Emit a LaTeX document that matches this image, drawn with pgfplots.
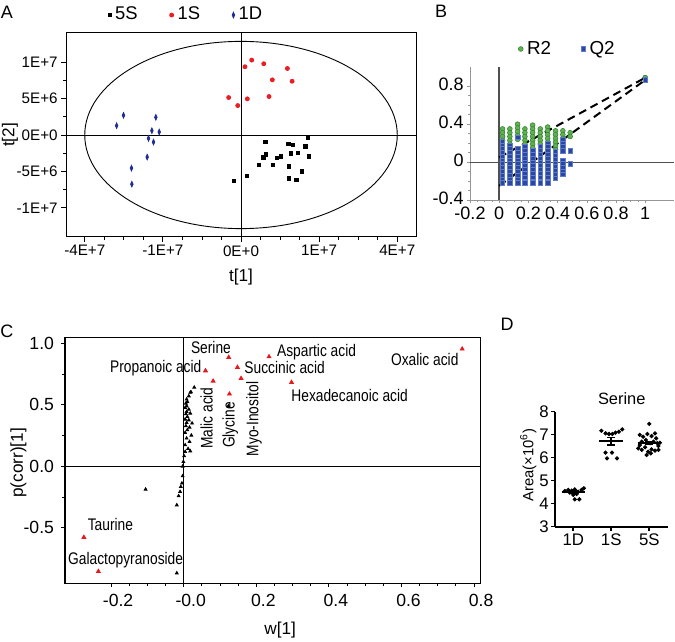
\documentclass[border=0pt]{standalone}
\usepackage{fontspec}
\setmainfont{Liberation Sans}
\newfontfamily\narrow[FakeStretch=0.82]{Liberation Sans}
\usepackage{pgfplots}
\pgfplotsset{compat=1.18}
\definecolor{redS}{RGB}{235,30,35}
\definecolor{blueD}{RGB}{30,45,150}
\definecolor{greenR}{RGB}{95,180,80}
\definecolor{greenRe}{RGB}{55,135,55}
\definecolor{blueQ}{RGB}{45,70,160}
\definecolor{blueQe}{RGB}{95,125,205}
\definecolor{axgray}{RGB}{150,150,150}
\definecolor{zgray}{RGB}{80,80,80}
\definecolor{redC}{RGB}{230,25,30}
\pgfplotsset{
  every axis/.append style={/pgf/number format/assume math mode=true},
}
\begin{document}
\begin{tikzpicture}
\useasboundingbox (0,0) rectangle (337.5pt,321pt);
% panel letters
\node[font=\fontsize{9}{10}\selectfont] at (3.4pt,315pt) {A};
\node[font=\fontsize{9}{10}\selectfont] at (220.5pt,315.5pt) {B};
\node[font=\fontsize{9}{10}\selectfont] at (3.4pt,155.5pt) {C};
\node[font=\fontsize{9}{10}\selectfont] at (253.5pt,159pt) {D};

% ---------------- Panel A ----------------
\begin{axis}[
  at={(33pt,202.5pt)}, anchor=south west, scale only axis,
  width=175pt, height=102pt,
  xmin=-2.24, xmax=2.24, ymin=-14, ymax=14,
  xtick={-2,-1,0,1,2}, xticklabels={-4E+7,-1E+7,0E+0,1E+7,4E+7},
  ytick={-10,-5,0,5,10}, yticklabels={-1E+7,-5E+6,0E+0,5E+6,1E+7},
  minor x tick num=3, minor y tick num=1,
  tick align=outside, tick pos=left,
  major tick length=2.5pt, minor tick length=1.5pt,
  axis line style={line width=0.5pt},
  every tick/.style={black, line width=0.4pt},
  tick label style={font=\fontsize{7.6}{8.5}\selectfont},
  xticklabel style={inner sep=1.5pt},
  yticklabel style={inner sep=1.5pt},
  xlabel={t[1]}, ylabel={t[2]},
  label style={font=\fontsize{8.6}{10}\selectfont},
  xlabel style={at={(axis description cs:0.5,-0.196)}, anchor=center},
  ylabel style={at={(axis description cs:-0.16,0.5)}, anchor=center},
  legend columns=3,
  legend style={at={(axis description cs:0.346,1.088)}, anchor=center,
    draw=none, fill=none, font=\fontsize{9.2}{10}\selectfont,
    /tikz/every even column/.append style={column sep=14pt}},
  legend image code/.code={\draw[mark repeat=2,mark phase=2,#1] plot coordinates {(0pt,0pt)(1.5pt,0pt)(3pt,0pt)};},
]
\draw[line width=0.45pt] (axis cs:0,-14) -- (axis cs:0,14);
\draw[line width=0.45pt] (axis cs:-2.24,0) -- (axis cs:2.24,0);
\draw[line width=0.45pt] (axis cs:0,0) ellipse [x radius=2, y radius=12.85];
\addplot[only marks, mark=square*, mark size=0.8pt, black] coordinates {
(-0.094,-6.34) (0.077,-5.61) (0.227,-4.13) (0.286,-3.08) (0.312,-0.92)
(0.317,-2.67) (0.410,-4.13) (0.462,-3.17) (0.513,-2.94) (0.606,-1.24)
(0.612,-4.32) (0.615,-5.97) (0.637,-2.53) (0.667,-1.34) (0.710,-6.20)
(0.727,-2.44) (0.782,-5.01) (0.825,-1.57) (0.860,-0.37) (0.872,-2.94)
};
\addlegendentry{5S}
\addplot[only marks, mark=*, mark size=1.0pt, draw=redS, fill=redS] coordinates {
(-0.158,5.14) (-0.042,4.04) (0.051,9.37) (0.081,4.96) (0.137,10.28)
(0.291,9.78) (0.359,5.28) (0.401,7.57) (0.594,9.13) (0.654,7.38)
};
\addlegendentry{1S}
\addplot[only marks, mark=diamond*, mark size=1.2pt, draw=blueD, fill=blueD, mark options={xscale=0.7,yscale=1.15}] coordinates {
(-1.592,1.28) (-1.504,2.70) (-1.402,-4.55) (-1.397,-6.75) (-1.201,-3.03)
(-1.184,-0.46) (-1.141,0.59) (-1.120,-0.97) (-1.090,2.43) (-1.047,0.41)
};
\addlegendentry{1D}
\end{axis}

% ---------------- Panel B ----------------
\begin{axis}[
  at={(235pt,221pt)}, anchor=south west, scale only axis,
  width=102.2pt, height=66.35pt,
  xmin=-0.2, xmax=1.2, ymin=-0.4, ymax=1.0,
  axis x line=bottom, axis y line=left,
  axis line style={-, draw=axgray, line width=0.4pt},
  xtick={-0.2,0,0.2,0.4,0.6,0.8,1}, xticklabels={-0.2,0,0.2,0.4,0.6,0.8,1},
  ytick={-0.4,0,0.4,0.8}, yticklabels={-0.4,0,0.4,0.8},
  minor x tick num=3, minor y tick num=3,
  tick align=outside, major tick length=1.5pt, minor tick length=1pt,
  every tick/.style={axgray, line width=0.3pt},
  tick label style={font=\fontsize{9}{10}\selectfont},
  xticklabel style={inner sep=1pt, yshift=-0.8pt},
  yticklabel style={inner sep=1.5pt, yshift=0.8pt},
  clip=false,
  legend columns=2,
  legend style={at={(axis description cs:0.482,1.138)}, anchor=center,
    draw=none, fill=none, font=\fontsize{9.4}{10}\selectfont,
    /tikz/every even column/.append style={column sep=13pt}},
  legend image code/.code={\draw[mark repeat=2,mark phase=2,#1] plot coordinates {(0pt,0pt)(1.5pt,0pt)(3pt,0pt)};},
]
\draw[zgray, line width=1pt] (axis cs:0,-0.4) -- (axis cs:0,1.0);
\draw[zgray, line width=0.5pt] (axis cs:-0.2,0) -- (axis cs:1.2,0);
\addplot[only marks, mark=*, mark size=1.2pt, draw=greenRe, fill=greenR, mark options={line width=0.3pt}] coordinates {
(0.023,0.35) (0.023,0.31) (0.023,0.27) (0.023,0.23)
(0.073,0.35) (0.073,0.31) (0.073,0.27) (0.073,0.23) (0.073,0.19)
(0.126,0.40) (0.126,0.36) (0.126,0.32) (0.126,0.28) (0.126,0.24)
(0.176,0.35) (0.176,0.31) (0.176,0.27) (0.176,0.23) (0.176,0.19)
(0.229,0.39) (0.229,0.35) (0.229,0.31) (0.229,0.27) (0.229,0.23) (0.229,0.19) (0.229,0.15)
(0.281,0.35) (0.281,0.31) (0.281,0.27) (0.281,0.23) (0.281,0.19)
(0.332,0.37) (0.332,0.33) (0.332,0.29) (0.332,0.25) (0.332,0.21)
(0.386,0.33) (0.386,0.29) (0.386,0.25) (0.386,0.21) (0.386,0.17) (0.386,0.13)
(0.436,0.33) (0.436,0.29) (0.436,0.25)
(0.486,0.31) (0.486,0.27)
(1,0.89)
};
\addlegendentry{R2}
\addplot[only marks, mark=square*, mark size=1.1pt, draw=blueQe, fill=blueQ, mark options={line width=0.3pt}] coordinates {
(0.023,0.22) (0.023,0.18) (0.023,0.14) (0.023,0.10) (0.023,0.06) (0.023,0.02) (0.023,-0.02) (0.023,-0.06) (0.023,-0.10) (0.023,-0.14) (0.023,-0.18) (0.023,-0.22)
(0.073,0.18) (0.073,0.14) (0.073,0.10) (0.073,0.06) (0.073,0.02) (0.073,-0.02) (0.073,-0.06) (0.073,-0.10) (0.073,-0.14) (0.073,-0.18) (0.073,-0.22)
(0.126,0.26) (0.126,0.14) (0.126,0.10) (0.126,0.06) (0.126,0.02) (0.126,-0.02) (0.126,-0.06) (0.126,-0.10) (0.126,-0.14) (0.126,-0.18) (0.126,-0.22)
(0.176,0.16) (0.176,0.12) (0.176,0.08) (0.176,0.04) (0.176,0.00) (0.176,-0.04) (0.176,-0.08) (0.176,-0.12) (0.176,-0.16) (0.176,-0.20) (0.176,-0.22)
(0.229,0.12) (0.229,0.08) (0.229,0.04) (0.229,0.00) (0.229,-0.04) (0.229,-0.08) (0.229,-0.12) (0.229,-0.16) (0.229,-0.20) (0.229,-0.22)
(0.281,0.16) (0.281,0.12) (0.281,0.08) (0.281,0.04) (0.281,0.00) (0.281,-0.04) (0.281,-0.08) (0.281,-0.12) (0.281,-0.16) (0.281,-0.20) (0.281,-0.22)
(0.332,0.20) (0.332,0.16) (0.332,0.12) (0.332,0.08) (0.332,0.04) (0.332,0.00) (0.332,-0.04) (0.332,-0.08) (0.332,-0.12) (0.332,-0.16) (0.332,-0.20) (0.332,-0.22)
(0.386,0.11) (0.386,0.07) (0.386,0.03) (0.386,-0.01) (0.386,-0.05) (0.386,-0.09) (0.386,-0.13) (0.386,-0.17)
(0.436,0.24) (0.436,0.20) (0.436,0.16) (0.436,0.12) (0.436,0.02) (0.436,-0.02) (0.436,-0.06) (0.436,-0.10) (0.436,-0.13)
(0.486,0.12) (0.486,-0.02)
};
\addlegendentry{Q2}
\addplot[forget plot, black, line width=1pt, dash pattern=on 4pt off 2.5pt] coordinates {(0,0.05) (1,0.89)};
\addplot[forget plot, black, line width=1pt, dash pattern=on 4pt off 2.5pt] coordinates {(0,-0.25) (1,0.866)};
\addplot[forget plot, only marks, mark=*, mark size=1.2pt, draw=greenRe, fill=greenR, mark options={line width=0.3pt}] coordinates {(1,0.89)};
\addplot[forget plot, only marks, mark=square*, mark size=1.1pt, draw=blueQe, fill=blueQ, mark options={line width=0.3pt}] coordinates {(1,0.866)};
\end{axis}

% ---------------- Panel C ----------------
\begin{axis}[
  at={(32.5pt,29.35pt)}, anchor=south west, scale only axis,
  width=207.65pt, height=123pt,
  xmin=-0.327, xmax=0.817, ymin=-0.951, ymax=1.049,
  xtick={-0.2,0,0.2,0.4,0.6,0.8}, xticklabels={-0.2,-0.0,0.2,0.4,0.6,0.8},
  ytick={-0.5,0,0.5,1}, yticklabels={-0.5,0.0,0.5,1.0},
  minor x tick num=3, minor y tick num=1,
  tick align=outside, tick pos=left,
  major tick length=2pt, minor tick length=1.5pt,
  axis line style={line width=0.75pt},
  every tick/.style={black, line width=0.5pt},
  tick label style={font=\fontsize{8.8}{10}\selectfont},
  x tick label style={xshift=3.5pt},
  xlabel={w[1]}, ylabel={p(corr)[1]},
  label style={font=\fontsize{8.6}{10}\selectfont},
  xlabel style={at={(axis description cs:0.518,-0.19)}, anchor=center},
  ylabel style={at={(axis description cs:-0.112,0.489)}, anchor=center},
  clip=false,
]
\draw[line width=0.7pt] (axis cs:0,-0.951) -- (axis cs:0,1.049);
\draw[line width=0.7pt] (axis cs:-0.327,0) -- (axis cs:0.817,0);
\addplot[only marks, mark=triangle*, mark size=0.8pt, black] coordinates {
(0.020,0.604) (0.014,0.571) (0.008,0.545) (0.010,0.525) (0.006,0.512)
(0.008,0.490) (0.004,0.476) (0.014,0.463) (0.008,0.444) (0.006,0.425)
(0.018,0.431) (0.010,0.403) (0.004,0.382) (0.014,0.376) (0.008,0.354)
(0.023,0.350) (0.006,0.328) (0.016,0.317) (0.010,0.295) (0.004,0.273)
(0.021,0.252) (0.008,0.228) (0.016,0.200) (0.004,0.173) (0.012,0.143)
(0.004,0.119) (0.018,0.124) (0.001,0.084) (-0.001,0.037) (-0.003,0.000)
(-0.003,-0.079) (-0.005,-0.138) (-0.008,-0.166) (-0.010,-0.206) (-0.014,-0.241)
(-0.019,-0.315) (-0.105,-0.187) (-0.019,-0.868) (0.029,0.642) (0.018,0.600)
(0.123,0.490)
};
\addplot[only marks, mark=triangle*, mark size=1.1pt, draw=redC, fill=redC] coordinates {
(0.124,0.886) (0.060,0.777) (0.081,0.693) (0.126,0.588) (0.148,0.805)
(0.158,0.715) (0.235,0.891) (0.297,0.683) (0.767,0.954) (-0.275,-0.577)
(-0.235,-0.854)
};
\begin{scope}[every node/.style={font=\narrow\fontsize{8.4}{9}\selectfont, inner sep=0pt}]
\node at (axis cs:0.075,0.967) {Serine};
\node at (axis cs:-0.077,0.797) {Propanoic acid};
\node at (axis cs:0.366,0.932) {Aspartic acid};
\node at (axis cs:0.278,0.805) {Succinic acid};
\node at (axis cs:0.664,0.870) {Oxalic acid};
\node at (axis cs:0.457,0.572) {Hexadecanoic acid};
\node[rotate=90] at (axis cs:0.063,0.393) {Malic acid};
\node[rotate=90] at (axis cs:0.128,0.336) {Glycine};
\node[rotate=90] at (axis cs:0.194,0.385) {Myo-Inositol};
\node at (axis cs:-0.202,-0.472) {Taurine};
\node at (axis cs:-0.160,-0.762) {Galactopyranoside};
\end{scope}
\end{axis}

% ---------------- Panel D ----------------
\begin{axis}[
  at={(277.5pt,57.65pt)}, anchor=south west, scale only axis,
  width=56.65pt, height=57.5pt,
  xmin=-0.48, xmax=2.5, ymin=3, ymax=8,
  axis x line=bottom, axis y line=left,
  axis line style={-, line width=0.9pt},
  xtick={0,1,2}, xticklabels={1D,1S,5S},
  ytick={3,4,5,6,7,8}, yticklabels={3,4,5,6,7,8},
  tick align=outside, major tick length=2pt,
  every tick/.style={black, line width=0.8pt},
  tick label style={font=\fontsize{8.4}{9}\selectfont},
  yticklabel style={inner sep=1pt},
  xticklabel style={inner sep=1.5pt},
  ylabel={Area(×10\textsuperscript{6})},
  ylabel style={at={(axis description cs:-0.236,0.537)}, anchor=center, font=\fontsize{7.4}{8}\selectfont},
  clip=false,
]
\node[font=\fontsize{8.2}{9}\selectfont] at (axis description cs:0.589,1.117) {Serine};
\addplot[only marks, mark=*, mark size=0.85pt, black] coordinates {
(-0.22,4.55) (-0.13,4.60) (-0.04,4.57) (0.04,4.62) (0.13,4.52) (0.22,4.60)
(0.28,4.67) (0.00,4.38) (0.09,4.42) (0.04,4.19) (0.16,4.19) (-0.09,4.48)
};
\addplot[only marks, mark=*, mark size=0.85pt, black] coordinates {
(0.74,7.17) (0.85,7.06) (0.94,7.03) (1.03,7.03) (1.11,7.09) (1.20,7.13)
(1.29,7.23) (0.85,6.22) (1.02,6.22) (0.89,5.97) (1.15,5.97)
};
\addplot[only marks, mark=*, mark size=0.85pt, black] coordinates {
(2.00,7.47) (1.75,6.99) (1.84,6.91) (1.95,7.03) (2.06,6.94) (2.15,7.06)
(2.18,6.84) (1.80,6.70) (1.91,6.77) (2.02,6.63) (2.11,6.70) (2.21,6.63)
(2.28,6.65) (1.71,6.41) (1.80,6.34) (1.89,6.45) (1.97,6.26) (2.06,6.36)
(2.15,6.31) (2.24,6.34) (1.93,6.12) (2.04,6.19) (1.75,6.55) (2.24,6.51)
};
% means
\addplot[black, line width=1.1pt] coordinates {(-0.30,4.51) (0.30,4.51)};
\addplot[black, line width=1.1pt] coordinates {(0.68,6.72) (1.32,6.72)};
\addplot[black, line width=1.1pt] coordinates {(1.70,6.64) (2.30,6.64)};
% SEM
\addplot[black, line width=0.8pt] coordinates {(0,4.45) (0,4.57)};
\addplot[black, line width=0.8pt] coordinates {(-0.1,4.57) (0.1,4.57)};
\addplot[black, line width=0.8pt] coordinates {(-0.1,4.45) (0.1,4.45)};
\addplot[black, line width=0.8pt] coordinates {(1,6.56) (1,6.88)};
\addplot[black, line width=0.8pt] coordinates {(0.9,6.88) (1.1,6.88)};
\addplot[black, line width=0.8pt] coordinates {(0.9,6.56) (1.1,6.56)};
\addplot[black, line width=0.8pt] coordinates {(2,6.57) (2,6.71)};
\addplot[black, line width=0.8pt] coordinates {(1.9,6.71) (2.1,6.71)};
\addplot[black, line width=0.8pt] coordinates {(1.9,6.57) (2.1,6.57)};
\end{axis}
\end{tikzpicture}
\end{document}
